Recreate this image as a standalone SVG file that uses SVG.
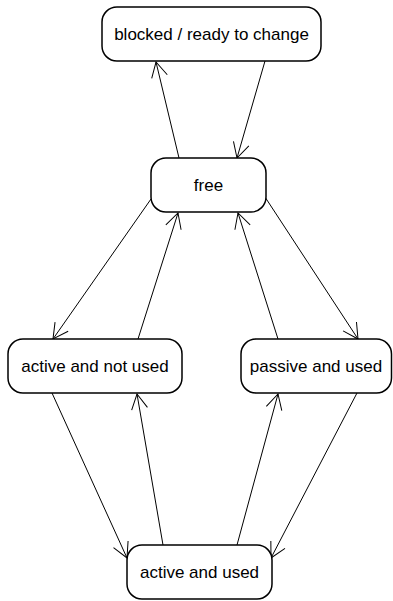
<svg xmlns="http://www.w3.org/2000/svg" width="393" height="601" viewBox="0 0 393 601">
<defs>
<style>
.n rect{fill:#fff;stroke:#000;stroke-width:1.5}
.n text{font-family:"Liberation Sans",Arial,sans-serif;font-size:17px;fill:#000;text-anchor:middle;dominant-baseline:central}
.c line{stroke:#000;stroke-width:1;fill:none}
</style>
<marker id="a" markerWidth="18" markerHeight="18" refX="16" refY="9" orient="auto" markerUnits="userSpaceOnUse">
<path d="M1,1 L16,9 L1,17" fill="none" stroke="#000" stroke-width="1"/>
</marker>
</defs>
<rect width="393" height="601" fill="#fff"/>
<g class="c" id="connectors">
<line x1="179" y1="158" x2="156" y2="62" marker-end="url(#a)"/>
<line x1="265" y1="61" x2="237" y2="158" marker-end="url(#a)"/>
<line x1="151" y1="199" x2="53" y2="339" marker-end="url(#a)"/>
<line x1="138" y1="339" x2="178" y2="213" marker-end="url(#a)"/>
<line x1="278" y1="339" x2="238" y2="213" marker-end="url(#a)"/>
<line x1="265" y1="197" x2="358" y2="339" marker-end="url(#a)"/>
<line x1="52" y1="393" x2="127" y2="558" marker-end="url(#a)"/>
<line x1="163" y1="545" x2="137" y2="394" marker-end="url(#a)"/>
<line x1="237" y1="545" x2="278" y2="394" marker-end="url(#a)"/>
<line x1="357" y1="393" x2="271" y2="558" marker-end="url(#a)"/>
</g>
<g class="n" id="blocked"><rect x="102" y="7" width="219" height="54" rx="15"/><text x="211.5" y="34">blocked / ready to change</text></g>
<g class="n" id="free"><rect x="151" y="158" width="115" height="54" rx="15"/><text x="208.5" y="185">free</text></g>
<g class="n" id="activeNotUsed"><rect x="8" y="339" width="174" height="54" rx="15"/><text x="95" y="366">active and not used</text></g>
<g class="n" id="passiveUsed"><rect x="241" y="339" width="150.5" height="54" rx="15"/><text x="316" y="366">passive and used</text></g>
<g class="n" id="activeUsed"><rect x="127" y="545" width="145" height="54" rx="15"/><text x="199.5" y="572">active and used</text></g>
</svg>
